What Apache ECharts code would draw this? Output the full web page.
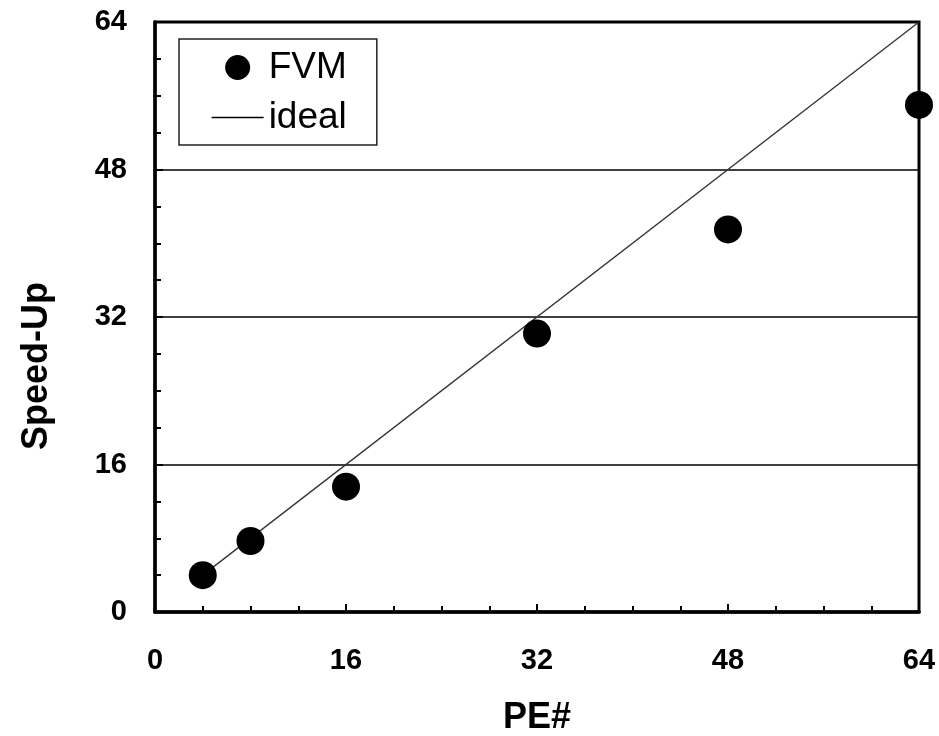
<!DOCTYPE html>
<html>
<head>
<meta charset="utf-8">
<script src="https://cdn.jsdelivr.net/npm/echarts@6/dist/echarts.min.js"></script>
<style>
  html, body { margin: 0; padding: 0; background: #fff; }
  #chart { width: 939px; height: 736px; }
</style>
</head>
<body>
<div id="chart"></div>
<script>
// measured speed-up
const peCount = [4, 8, 16, 32, 48, 64];
const fvmSpeedUp = [4.0, 7.7, 13.6, 30.2, 41.5, 55.0];
// ideal line end points
const idealPe = [4, 64];
const idealSpeedUp = [4, 64];
const tickValues = [0, 16, 32, 48, 64];

const font = "Arial, 'Liberation Sans', sans-serif";

var chartDom = document.getElementById("chart");
var mychart = echarts.init(chartDom);

var option = {
  animation: false,
  grid: {
    left: 155,
    right: 20,
    top: 22,
    bottom: 124,
    outerBoundsMode: "none",
    show: true,
    borderColor: "#000",
    borderWidth: 3,
  },
  legend: {
    orient: "vertical",
    left: 179,
    top: 39,
    padding: [10, 30, 9, 32],
    borderColor: "#222",
    borderWidth: 1.5,
    itemWidth: 52,
    itemHeight: 25,
    itemGap: 13,
    textStyle: { fontFamily: font, fontSize: 37, color: "#000" },
    data: [
      { name: "FVM" },
      { name: "ideal", itemStyle: { opacity: 0 }, lineStyle: { color: "#000", width: 1.3 } },
    ],
  },
  xAxis: {
    type: "value",
    min: tickValues[0],
    max: tickValues[tickValues.length - 1],
    interval: 16,
    name: "PE#",
    nameLocation: "middle",
    nameGap: 88,
    nameTextStyle: { fontFamily: font, fontSize: 36, fontWeight: "bold", color: "#000" },
    axisLine: { lineStyle: { color: "#000", width: 3.5 } },
    axisTick: { inside: true, length: 8, lineStyle: { color: "#000", width: 2 } },
    minorTick: { show: true, splitNumber: 4, length: 6, lineStyle: { color: "#000", width: 2 } },
    axisLabel: { margin: 34, fontFamily: font, fontSize: 29, fontWeight: "bold", color: "#000" },
    splitLine: { show: false },
  },
  yAxis: {
    type: "value",
    min: tickValues[0],
    max: tickValues[tickValues.length - 1],
    interval: 16,
    name: "Speed-Up",
    nameLocation: "middle",
    nameGap: 100,
    nameTextStyle: {
      fontFamily: font,
      fontSize: 36,
      fontWeight: "bold",
      color: "#000",
      padding: [0, 98, 0, 0],
    },
    axisLine: { lineStyle: { color: "#000", width: 3.5 } },
    axisTick: { inside: true, length: 8, lineStyle: { color: "#000", width: 2 } },
    minorTick: { show: true, splitNumber: 4, length: 6, lineStyle: { color: "#000", width: 2 } },
    axisLabel: { margin: 28, fontFamily: font, fontSize: 29, fontWeight: "bold", color: "#000" },
    splitLine: { show: true, lineStyle: { color: "#000", width: 1.5 } },
  },
  series: [
    {
      name: "ideal",
      type: "line",
      symbol: "none",
      data: idealPe.map((x, i) => [x, idealSpeedUp[i]]),
      lineStyle: { color: "#333", width: 1.3 },
      itemStyle: { color: "#333" },
      z: 2,
    },
    {
      name: "FVM",
      type: "scatter",
      symbol: "circle",
      symbolSize: 28,
      data: peCount.map((x, i) => [x, fvmSpeedUp[i]]),
      itemStyle: { color: "#000", opacity: 1 },
      z: 3,
    },
  ],
};

mychart.setOption(option);
</script>
</body>
</html>
